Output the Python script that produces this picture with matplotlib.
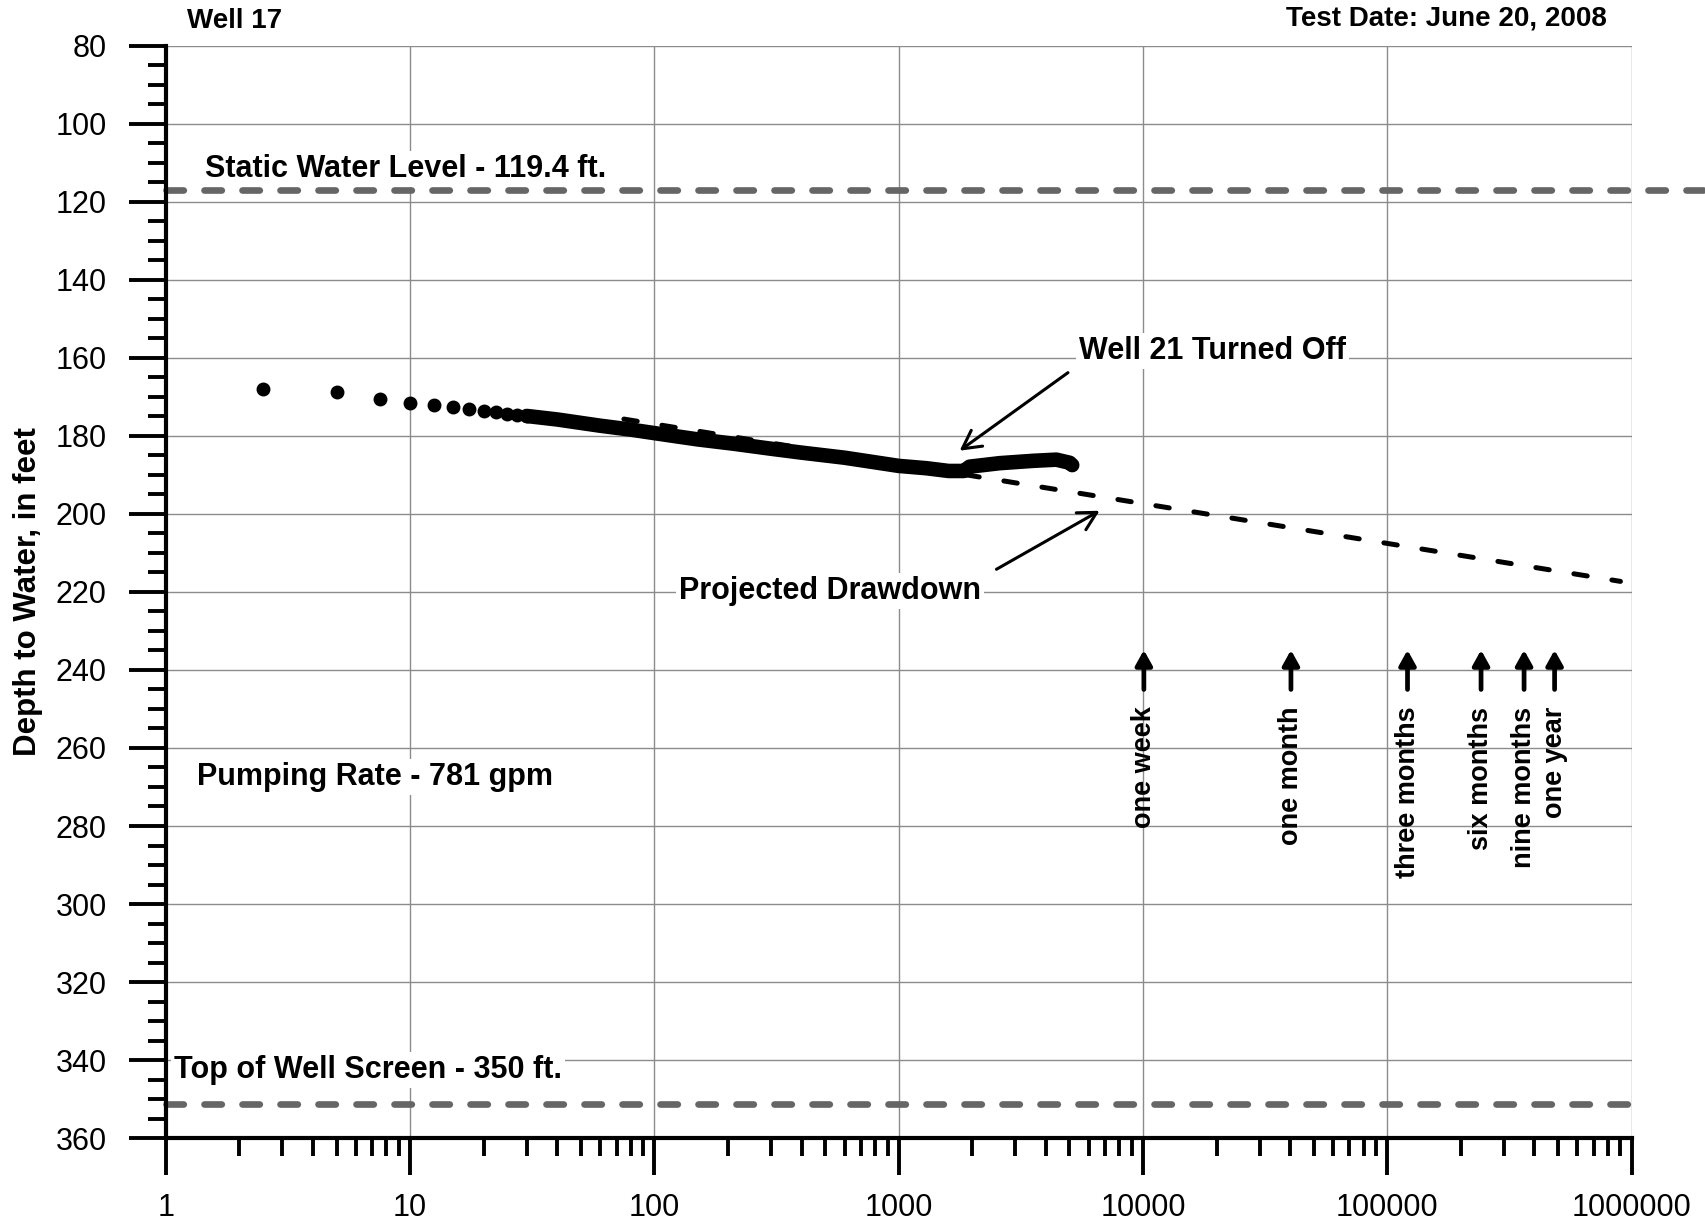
import matplotlib.pyplot as plt
from matplotlib.ticker import FixedLocator, FixedFormatter, MultipleLocator, LogLocator, NullFormatter

plt.rcParams['font.family'] = ['Liberation Sans', 'DejaVu Sans']

# early readings (minutes since pump start, depth to water in ft)
early_time = [2.5, 5, 7.5, 10, 12.5, 15, 17.5, 20, 22.5, 25, 27.5, 30]
early_depth = [168.1, 168.8, 170.6, 171.5, 172.2, 172.7, 173.2, 173.6, 174.0, 174.4, 174.7, 174.9]

# dense logger record, read along the thick band
band_time = [30, 40, 60, 80, 100, 150, 210, 300, 400, 600, 1000, 1300, 1600, 1850,
             1950, 2590, 3550, 4420, 5010, 5130]
band_depth = [174.9, 175.8, 177.4, 178.4, 179.3, 180.9, 182.0, 183.3, 184.3, 185.6, 187.7, 188.3, 189.0, 189.0,
              187.9, 187.0, 186.4, 186.1, 186.9, 187.5]

# projected drawdown (straight line on semilog)
proj_time = [75, 900000]
proj_depth = [175.7, 217.3]

static_level = 117.0
screen_level = 351.3

milestone_time = [10080, 40320, 120960, 241920, 362880, 483840]
milestone_label = ['one week', 'one month', 'three months', 'six months', 'nine months', 'one year']

xtick_values = [1, 10, 100, 1000, 10000, 100000, 1000000]
xtick_labels = ['1', '10', '100', '1000', '10000', '100000', '1000000']

fig = plt.figure(figsize=(17.06, 12.32), dpi=100)
ax = fig.add_axes([0.0972, 0.0762, 0.8592, 0.8867])
ax.set_xscale('log')
ax.set_xlim(1, 1e6)
ax.set_ylim(360, 80)

ax.grid(True, which='major', color='#8c8c8c', lw=1.0)
ax.set_axisbelow(True)

ax.xaxis.set_major_locator(FixedLocator(xtick_values))
ax.xaxis.set_major_formatter(FixedFormatter(xtick_labels))
ax.xaxis.set_minor_locator(LogLocator(base=10, subs=range(2, 10)))
ax.xaxis.set_minor_formatter(NullFormatter())
ax.yaxis.set_major_locator(MultipleLocator(20))
ax.yaxis.set_minor_locator(MultipleLocator(5))
ax.tick_params(which='major', length=26.5, width=2.8, labelsize=22, color='black')
ax.tick_params(axis='x', which='major', pad=13)
ax.tick_params(axis='y', which='major', pad=16)
ax.tick_params(which='minor', length=13, width=2.8)
for s in ['top', 'right']:
    ax.spines[s].set_visible(False)
for s in ['left', 'bottom']:
    ax.spines[s].set_linewidth(3)

ax.set_ylabel('Depth to Water, in feet', fontsize=22.5, fontweight='bold')
ax.yaxis.set_label_coords(-0.084, 0.5)

# reference levels
ax.plot([0, 1.06], [static_level, static_level], transform=ax.get_yaxis_transform(),
        color='#666666', lw=4.8, ls=(0, (2.6, 3.1)), dash_capstyle='round', clip_on=False, zorder=2)
ax.plot([0, 1.0], [screen_level, screen_level], transform=ax.get_yaxis_transform(),
        color='#666666', lw=4.8, ls=(0, (2.6, 3.1)), dash_capstyle='round', clip_on=False, zorder=2)

# data
ax.plot(proj_time, proj_depth, color='black', lw=3.6, ls=(0, (2.7, 5)), dash_capstyle='round', zorder=3)
ax.plot(band_time, band_depth, color='black', lw=10.5, solid_capstyle='round', solid_joinstyle='round', zorder=4)
ax.plot(early_time, early_depth, 'o', color='black', ms=9, zorder=4)

box = dict(boxstyle='square,pad=0.1', facecolor='white', edgecolor='none')
bold = dict(fontsize=22, fontweight='bold', ha='left', va='center', bbox=box, zorder=5)
ax.text(1.44, 111.6, 'Static Water Level - 119.4 ft.', **bold)
ax.text(1.08, 342.6, 'Top of Well Screen - 350 ft.', **bold)
ax.text(1.34, 267.4, 'Pumping Rate - 781 gpm', **bold)
ax.text(5470, 158.3, 'Well 21 Turned Off', **bold)
ax.text(126, 219.8, 'Projected Drawdown', **bold)

open_head = dict(arrowstyle='->,head_length=0.65,head_width=0.35', lw=2.2, color='black',
                 shrinkA=0, shrinkB=0, mutation_scale=20)
ax.annotate('', xy=(1776, 183.8), xytext=(4930, 163.8), arrowprops=open_head, zorder=6)
ax.annotate('', xy=(6640, 199.2), xytext=(2512, 214.2), arrowprops=open_head, zorder=6)

for t, lab in zip(milestone_time, milestone_label):
    ax.annotate('', xy=(t, 234.9), xytext=(t, 245.0),
                arrowprops=dict(arrowstyle='-|>,head_length=0.45,head_width=0.25', lw=3.4, color='black',
                                shrinkA=0, shrinkB=0, mutation_scale=20))
    ax.text(t, 249.4, lab, rotation=90, ha='center', va='top', fontsize=19.5, fontweight='bold')

fig.text(187 / 1706, 1 - 21.5 / 1232, 'Well 17', fontsize=20, fontweight='bold', ha='left', va='center')
fig.text(1607 / 1706, 1 - 18.5 / 1232, 'Test Date: June 20, 2008', fontsize=20, fontweight='bold',
         ha='right', va='center')

fig.savefig('out.png', dpi=100)
